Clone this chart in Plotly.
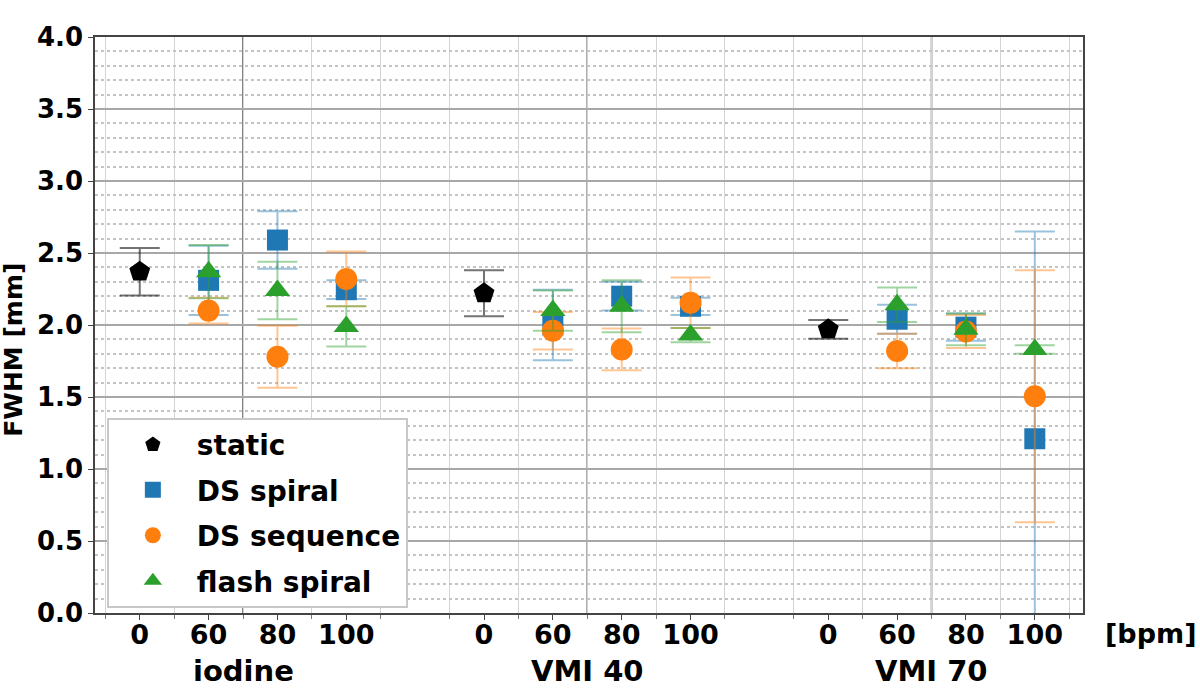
import plotly.graph_objects as go

# groups along the x axis and the heart rates inside each group
groups = ["iodine", "VMI 40", "VMI 70"]
bpm_labels = ["0", "60", "80", "100"]

# static phantom (0 bpm), one value per group
static_fwhm = [2.37, 2.22, 1.97]
static_err = [0.165, 0.16, 0.065]

# moving phantom: 60, 80, 100 bpm for iodine, VMI 40, VMI 70
ds_spiral_fwhm = [2.31, 2.59, 2.245, 2.00, 2.20, 2.13, 2.04, 1.985, 1.21]
ds_spiral_err = [0.24, 0.20, 0.065, 0.245, 0.10, 0.06, 0.10, 0.095, 1.44]

ds_seq_fwhm = [2.10, 1.78, 2.32, 1.96, 1.83, 2.155, 1.82, 1.955, 1.505]
ds_seq_err = [0.09, 0.215, 0.19, 0.13, 0.145, 0.175, 0.12, 0.115, 0.875]

flash_fwhm = [2.37, 2.24, 1.99, 2.10, 2.13, 1.93, 2.14, 1.97, 1.83]
flash_err = [0.185, 0.20, 0.14, 0.14, 0.18, 0.05, 0.12, 0.11, 0.03]

step = len(bpm_labels) + 1
static_x = [g * step for g in range(len(groups))]
moving_x = [g * step + b for g in range(len(groups)) for b in range(1, len(bpm_labels))]
tick_x = [g * step + b for g in range(len(groups)) for b in range(len(bpm_labels))]
tick_text = bpm_labels * len(groups)
group_centers = [g * step + (len(bpm_labels) - 1) / 2 for g in range(len(groups))]
half_x = [x - 0.5 for x in tick_x] + [x + 0.5 for x in tick_x]

FONT = "DejaVu Sans"

series = [
    ("static", static_x, static_fwhm, static_err, "black", "rgba(0,0,0,0.55)", "pentagon", 22),
    ("DS spiral", moving_x, ds_spiral_fwhm, ds_spiral_err, "#1f77b4", "rgba(31,119,180,0.45)", "square", 21),
    ("DS sequence", moving_x, ds_seq_fwhm, ds_seq_err, "#ff7f0e", "rgba(255,127,14,0.45)", "circle", 22),
    ("flash spiral", moving_x, flash_fwhm, flash_err, "#2ca02c", "rgba(44,160,44,0.45)", "triangle-up", 22),
]

fig = go.Figure()
for name, xs, ys, errs, col, ecol, sym, size in series:
    fig.add_trace(go.Scatter(
        x=xs, y=ys, mode="markers", name=name, legendgroup=name,
        marker=dict(color=col, symbol=sym, size=size, line=dict(width=0)),
        error_y=dict(type="data", array=errs, visible=True, color=ecol,
                     thickness=2, width=20),
    ))

for gx in group_centers:
    fig.add_shape(type="line", xref="x", yref="paper", x0=gx, x1=gx, y0=0, y1=1,
                  line=dict(color="#555555", width=1.5), layer="below")

for gx, name in zip(group_centers, groups):
    fig.add_annotation(x=gx, y=-0.1, xref="x", yref="paper", text="<b>%s</b>" % name,
                       showarrow=False, font=dict(family=FONT, size=29, color="black"),
                       yanchor="middle")

fig.add_annotation(x=1.0, y=-0.036, xref="paper", yref="paper", text="<b>[bpm]</b>",
                   showarrow=False, xanchor="left", yanchor="middle", xshift=20,
                   font=dict(family=FONT, size=27, color="black"))

# y axis title placed as rotated text left of the tick labels
fig.add_annotation(x=-0.082, y=0.457, xref="paper", yref="paper", text="<b>FWHM [mm]</b>",
                   showarrow=False, textangle=-90, xanchor="center", yanchor="middle",
                   font=dict(family=FONT, size=25, color="black"))

fig.update_layout(
    width=1200, height=693,
    margin=dict(l=95, r=117, t=37, b=80),
    plot_bgcolor="white", paper_bgcolor="white",
    font=dict(family=FONT, size=24, color="black"),
    showlegend=True,
    legend=dict(x=0.012, y=0.339, xanchor="left", yanchor="top",
                bgcolor="white", bordercolor="#c8c8c8", borderwidth=2,
                font=dict(family=FONT, size=28, color="black", weight="bold"),
                tracegroupgap=6, itemwidth=78),
)

fig.update_xaxes(
    range=[-0.65, 13.7], automargin=False,
    tickvals=tick_x, ticktext=["<b>%s</b>" % t for t in tick_text],
    showgrid=False, zeroline=False,
    ticks="outside", ticklen=5, tickcolor="#444", ticklabelstandoff=-8,
    showline=True, linecolor="#444", linewidth=1.5, mirror=True,
    tickfont=dict(family=FONT, size=27, color="black"),
    minor=dict(tickvals=half_x, showgrid=True, gridcolor="#d4d4d4", gridwidth=1,
               ticks="outside", ticklen=4, tickcolor="#777"),
)

fig.update_yaxes(
    range=[0, 4.0], dtick=0.5, tickformat=".1f", automargin=False,
    showgrid=True, gridcolor="#a8a8a8", gridwidth=2, zeroline=False,
    ticks="outside", ticklen=5, tickcolor="#444",
    showline=True, linecolor="#444", linewidth=1.5, mirror=True,
    tickfont=dict(family=FONT, size=26, color="black", weight="bold"),
    minor=dict(dtick=0.1, showgrid=True, gridcolor="#c4c4c4", griddash="dot", gridwidth=1.5),
)

fig.write_html("out.html", config={"displayModeBar": False},
               post_script="document.body.style.margin='0';")
